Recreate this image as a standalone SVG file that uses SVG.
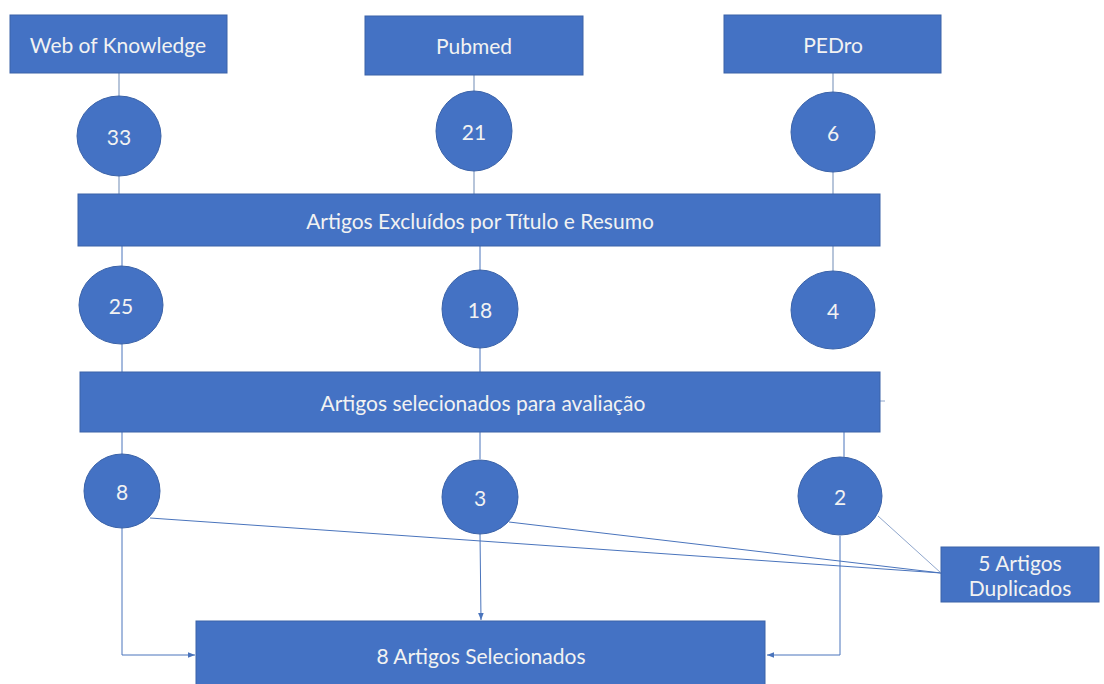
<svg xmlns="http://www.w3.org/2000/svg" width="1104" height="684" viewBox="0 0 1104 684">
<defs>
<style>
.box{fill:#4472C4;stroke:#3A62A8;stroke-width:1}
.t{font-family:Lato,"Liberation Sans",sans-serif;font-size:21px;fill:#F2F2F2;text-anchor:middle;dominant-baseline:central}
.c1{stroke:#9FB2CE;stroke-width:1.5;fill:none}
.c2{stroke:#4A74BC;stroke-width:1;fill:none}
.c3{stroke:#8FA6CC;stroke-width:1;fill:none}
</style>
<marker id="ah" viewBox="0 0 10 10" refX="10" refY="5" markerWidth="7" markerHeight="7" orient="auto" markerUnits="userSpaceOnUse">
<path d="M0,1 L10,5 L0,9 z" fill="#4A74BC"/>
</marker>
</defs>
<rect width="1104" height="684" fill="#FFFFFF"/>
<g id="connectors">
<line class="c1" x1="119" y1="73" x2="119" y2="97"/>
<line class="c1" x1="119" y1="175" x2="119" y2="194"/>
<line class="c1" x1="474" y1="75" x2="474" y2="92"/>
<line class="c1" x1="474" y1="171" x2="474" y2="194"/>
<line class="c1" x1="833" y1="73" x2="833" y2="93"/>
<line class="c1" x1="833" y1="171" x2="833" y2="194"/>
<line class="c2" x1="122" y1="246" x2="122" y2="267"/>
<line class="c2" x1="480" y1="246" x2="480" y2="270"/>
<line class="c1" x1="833" y1="246" x2="833" y2="272"/>
<line class="c2" x1="122" y1="343" x2="122" y2="372"/>
<line class="c2" x1="480" y1="348" x2="480" y2="372"/>
<line class="c3" x1="880" y1="401" x2="885" y2="401"/>
<line class="c2" x1="122" y1="432" x2="122" y2="454"/>
<line class="c2" x1="480" y1="432" x2="480" y2="459"/>
<line class="c2" x1="844" y1="432" x2="844" y2="457"/>
<polyline class="c2" points="122,528 122,655 195,655" marker-end="url(#ah)"/>
<line class="c2" x1="480" y1="534" x2="481" y2="620" marker-end="url(#ah)"/>
<polyline class="c2" points="840,536 840,655 767,655" marker-end="url(#ah)"/>
<line class="c2" x1="150" y1="518" x2="941" y2="573"/>
<line class="c2" x1="509" y1="522" x2="941" y2="573"/>
<line class="c3" x1="878" y1="516" x2="941" y2="573"/>
</g>
<g id="web-of-knowledge"><rect class="box" x="10" y="15" width="217" height="58"/><text class="t" x="118" y="44">Web of Knowledge</text></g>
<g id="pubmed"><rect class="box" x="365" y="16" width="218" height="59"/><text class="t" x="474" y="45">Pubmed</text></g>
<g id="pedro"><rect class="box" x="724" y="15" width="217" height="58"/><text class="t" x="833" y="44">PEDro</text></g>
<g id="n33"><ellipse class="box" cx="119" cy="136" rx="42" ry="40"/><text class="t" x="119" y="136">33</text></g>
<g id="n21"><ellipse class="box" cx="474" cy="131" rx="38" ry="40"/><text class="t" x="474" y="131">21</text></g>
<g id="n6"><ellipse class="box" cx="833" cy="132" rx="42" ry="40"/><text class="t" x="833" y="132">6</text></g>
<g id="excluidos"><rect class="box" x="78" y="194" width="802" height="52"/><text class="t" x="480" y="220">Artigos Excluídos por Título e Resumo</text></g>
<g id="n25"><ellipse class="box" cx="121" cy="305" rx="42" ry="39"/><text class="t" x="121" y="305">25</text></g>
<g id="n18"><ellipse class="box" cx="480" cy="309" rx="38" ry="39"/><text class="t" x="480" y="309">18</text></g>
<g id="n4"><ellipse class="box" cx="833" cy="310" rx="42" ry="39"/><text class="t" x="833" y="310">4</text></g>
<g id="selecionados"><rect class="box" x="80" y="372" width="800" height="60"/><text class="t" x="483" y="402">Artigos selecionados para avaliação</text></g>
<g id="n8"><ellipse class="box" cx="122" cy="491" rx="38" ry="37"/><text class="t" x="122" y="491">8</text></g>
<g id="n3"><ellipse class="box" cx="480" cy="497" rx="38" ry="37"/><text class="t" x="480" y="497">3</text></g>
<g id="n2"><ellipse class="box" cx="840" cy="496" rx="42" ry="39"/><text class="t" x="840" y="496">2</text></g>
<g id="duplicados"><rect class="box" x="941" y="547" width="158" height="55"/><text class="t" x="1020" y="562">5 Artigos</text><text class="t" x="1020" y="587">Duplicados</text></g>
<g id="final"><rect class="box" x="196" y="621" width="569" height="70"/><text class="t" x="481" y="655">8 Artigos Selecionados</text></g>
</svg>
